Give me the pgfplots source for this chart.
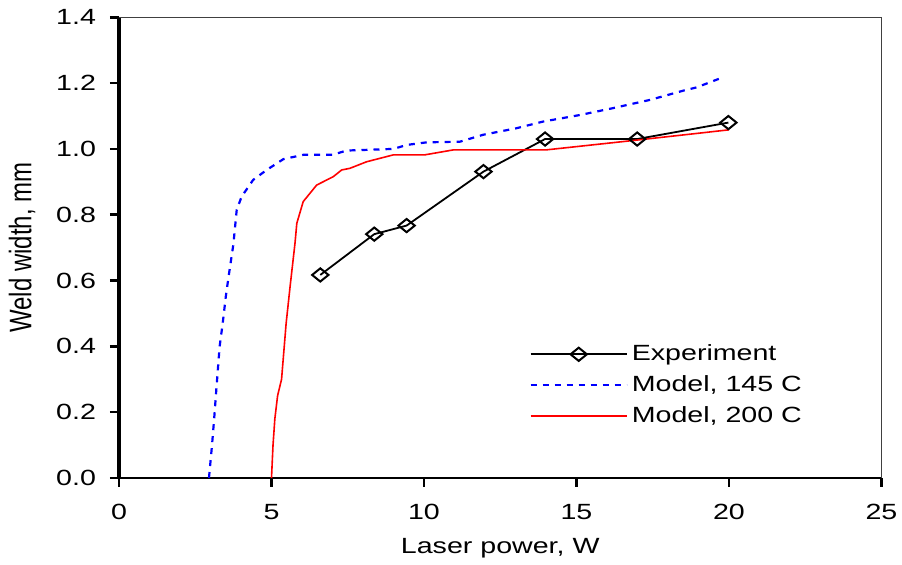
\documentclass[border=0pt]{standalone}
\usepackage{fontspec}
\setmainfont[FakeStretch=1.3]{Liberation Sans}
\newfontfamily\uprightlabelfont{Liberation Sans}
\usepackage{pgfplots}
\pgfplotsset{compat=1.18}

\begin{document}
\begin{tikzpicture}
\useasboundingbox (0,0) rectangle (451pt,282.5pt);
\begin{axis}[
  at={(59.5pt,43.5pt)}, anchor=south west,
  scale only axis, width=381.25pt, height=230.35pt,
  xmin=0, xmax=25, ymin=0, ymax=1.4,
  xtick={0,5,...,25}, ytick={0,0.2,...,1.4},
  axis lines=left,
  x axis line style={-, line width=1.2pt},
  y axis line style={-, line width=2pt},
  tick align=outside, major tick length=4.5pt,
  every tick/.style={black, line width=1.3pt},
  /pgf/number format/assume math mode=true,
  ticklabel style={font=\fontsize{11}{13}\selectfont},
  xticklabel style={yshift=-5pt},
  yticklabel style={xshift=-3.5pt, /pgf/number format/.cd, fixed, fixed zerofill, precision=1},
  xlabel={Laser power, W},
  ylabel={\scalebox{1}[1.3]{\resizebox{85pt}{!}{\uprightlabelfont Weld width, mm}}},
  xlabel style={font=\fontsize{11}{13}\selectfont, at={(axis description cs:0.5,-0.152)}, anchor=center},
  ylabel style={at={(axis description cs:-0.127,0.5)}, anchor=center},
  legend style={draw=none, fill=none, at={(axis cs:13.45,0.418)}, anchor=north west,
    font=\fontsize{11}{13}\selectfont, row sep=2pt, inner sep=0pt},
  legend cell align=left,
  legend image code/.code={%
    \draw[mark repeat=2, mark phase=2, #1] plot coordinates {(0pt,0pt) (24pt,0pt) (48pt,0pt)};},
  clip=false,
]
% thin frame on the top and right sides
\draw[black!75, line width=0.6pt] (rel axis cs:0,1) -- (rel axis cs:1,1) -- (rel axis cs:1,0);

\addplot[black, line width=0.9pt, mark=diamond, mark size=3.3pt,
  mark options={xscale=1.65, fill=white, solid, line width=1pt}]
  coordinates {(6.6,0.617) (8.37,0.741) (9.43,0.767) (11.95,0.931) (13.97,1.03) (16.99,1.03) (19.98,1.08)};
\addlegendentry{Experiment}

\addplot[blue, line width=1.1pt, dash pattern=on 3pt off 3pt]
  coordinates {(2.95,0) (3.05,0.1) (3.12,0.18) (3.2,0.28) (3.3,0.4) (3.4,0.47) (3.5,0.55)
  (3.59,0.61) (3.75,0.71) (3.86,0.815) (4.02,0.855) (4.4,0.906) (4.84,0.936) (5.39,0.969)
  (6.04,0.982) (7.0,0.982) (7.46,0.995) (9.0,1.0) (9.43,1.012) (10.09,1.02) (11.18,1.022)
  (11.94,1.043) (13.04,1.063) (13.9,1.083) (15.11,1.103) (16.2,1.124) (17.41,1.149)
  (18.5,1.177) (18.94,1.187) (19.81,1.218)};
\addlegendentry{Model, 145 C}

\addplot[red, line width=0.8pt]
  coordinates {(5.0,0) (5.05,0.1) (5.11,0.18) (5.2,0.25) (5.33,0.3) (5.48,0.47) (5.61,0.582)
  (5.77,0.713) (5.83,0.774) (6.04,0.84) (6.48,0.89) (7.03,0.916) (7.3,0.936) (7.57,0.941)
  (8.12,0.961) (9.0,0.982) (10.03,0.982) (10.96,0.997) (14.0,0.997) (17.0,1.027) (20.0,1.058)};
\addlegendentry{Model, 200 C}
\end{axis}
\end{tikzpicture}
\end{document}
